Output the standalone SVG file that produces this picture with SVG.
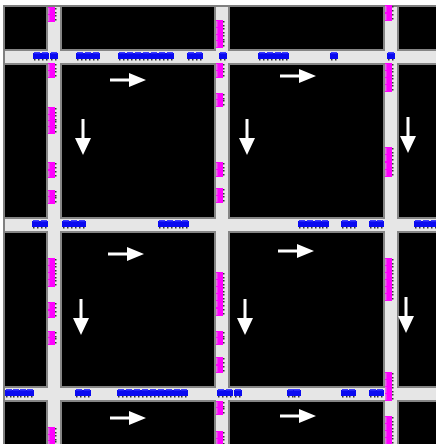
<svg xmlns="http://www.w3.org/2000/svg" xmlns:xlink="http://www.w3.org/1999/xlink" width="436" height="444" viewBox="0 0 436 444">
<style>
.edge{fill:#858585}
.lane{fill:#e6e6e6}
.arr{fill:#ffffff}
</style>
<defs>
<g id="bc">
<rect x="0" y="1" width="8" height="6" fill="#0a0af0"/>
<rect x="1" y="0" width="6" height="1.5" fill="#3c3cff"/>
<rect x="1" y="7" width="1.5" height="1.5" fill="#333"/>
<rect x="5" y="7" width="1.5" height="1.5" fill="#333"/>
</g>
<g id="mc">
<rect x="0" y="0" width="7" height="8" fill="#ff00ff"/>
<rect x="0" y="1" width="1.5" height="6" fill="#e070e0"/>
<rect x="7" y="1" width="1.5" height="1.5" fill="#333"/>
<rect x="7" y="5" width="1.5" height="1.5" fill="#333"/>
</g>
<path id="ra" d="M0,-1.5 H19 V-7 L36,0 L19,7 V1.5 H0 Z"/>
<path id="da" d="M-1.5,0 V19 H-8 L0,36 L8,19 H1.5 V0 Z"/>
</defs>
<rect width="436" height="444" fill="#ffffff"/>
<rect x="3" y="5" width="433" height="439" fill="#808080"/>
<rect x="5" y="7" width="431" height="437" fill="#000000"/>
<g id="roads">
<rect class="edge" x="46" y="7" width="16" height="437"/>
<rect class="edge" x="214" y="7" width="16" height="437"/>
<rect class="edge" x="383" y="7" width="16" height="437"/>
<rect class="edge" x="5" y="49" width="431" height="16"/>
<rect class="edge" x="5" y="217" width="431" height="16"/>
<rect class="edge" x="5" y="386" width="431" height="16"/>
<rect class="lane" x="48" y="7" width="12" height="437"/>
<rect class="lane" x="216" y="7" width="12" height="437"/>
<rect class="lane" x="385" y="7" width="12" height="437"/>
<rect class="lane" x="5" y="51" width="431" height="12"/>
<rect class="lane" x="5" y="219" width="431" height="12"/>
<rect class="lane" x="5" y="388" width="431" height="12"/>
</g>
<g id="blue-cars">
<use href="#bc" x="33" y="52"/><use href="#bc" x="41" y="52"/><use href="#bc" x="50" y="52"/>
<use href="#bc" x="76" y="52"/><use href="#bc" x="84" y="52"/><use href="#bc" x="92" y="52"/>
<use href="#bc" x="118" y="52"/><use href="#bc" x="126" y="52"/><use href="#bc" x="134" y="52"/><use href="#bc" x="142" y="52"/><use href="#bc" x="150" y="52"/><use href="#bc" x="158" y="52"/><use href="#bc" x="166" y="52"/>
<use href="#bc" x="187" y="52"/><use href="#bc" x="195" y="52"/>
<use href="#bc" x="219" y="52"/>
<use href="#bc" x="258" y="52"/><use href="#bc" x="266" y="52"/><use href="#bc" x="274" y="52"/><use href="#bc" x="281" y="52"/>
<use href="#bc" x="330" y="52"/>
<use href="#bc" x="387" y="52"/>
<use href="#bc" x="32" y="220"/><use href="#bc" x="40" y="220"/>
<use href="#bc" x="62" y="220"/><use href="#bc" x="70" y="220"/><use href="#bc" x="78" y="220"/>
<use href="#bc" x="158" y="220"/><use href="#bc" x="166" y="220"/><use href="#bc" x="174" y="220"/><use href="#bc" x="181" y="220"/>
<use href="#bc" x="298" y="220"/><use href="#bc" x="306" y="220"/><use href="#bc" x="314" y="220"/><use href="#bc" x="321" y="220"/>
<use href="#bc" x="341" y="220"/><use href="#bc" x="349" y="220"/>
<use href="#bc" x="369" y="220"/><use href="#bc" x="376" y="220"/>
<use href="#bc" x="414" y="220"/><use href="#bc" x="422" y="220"/><use href="#bc" x="430" y="220"/>
<use href="#bc" x="5" y="389"/><use href="#bc" x="12" y="389"/><use href="#bc" x="19" y="389"/><use href="#bc" x="26" y="389"/>
<use href="#bc" x="75" y="389"/><use href="#bc" x="83" y="389"/>
<use href="#bc" x="117" y="389"/><use href="#bc" x="125" y="389"/><use href="#bc" x="133" y="389"/><use href="#bc" x="141" y="389"/><use href="#bc" x="149" y="389"/><use href="#bc" x="157" y="389"/><use href="#bc" x="165" y="389"/><use href="#bc" x="173" y="389"/><use href="#bc" x="180" y="389"/>
<use href="#bc" x="217" y="389"/><use href="#bc" x="225" y="389"/><use href="#bc" x="234" y="389"/>
<use href="#bc" x="287" y="389"/><use href="#bc" x="293" y="389"/>
<use href="#bc" x="341" y="389"/><use href="#bc" x="348" y="389"/>
<use href="#bc" x="369" y="389"/><use href="#bc" x="376" y="389"/>
</g>
<g id="magenta-cars">
<use href="#mc" x="48" y="7"/><use href="#mc" x="48" y="14"/>
<use href="#mc" x="48" y="63"/><use href="#mc" x="48" y="70"/>
<use href="#mc" x="48" y="107"/><use href="#mc" x="48" y="114"/><use href="#mc" x="48" y="120"/><use href="#mc" x="48" y="126"/>
<use href="#mc" x="48" y="162"/><use href="#mc" x="48" y="170"/>
<use href="#mc" x="48" y="190"/><use href="#mc" x="48" y="196"/>
<use href="#mc" x="48" y="258"/><use href="#mc" x="48" y="265"/><use href="#mc" x="48" y="272"/><use href="#mc" x="48" y="279"/>
<use href="#mc" x="48" y="302"/><use href="#mc" x="48" y="310"/>
<use href="#mc" x="48" y="331"/><use href="#mc" x="48" y="337"/>
<use href="#mc" x="48" y="427"/><use href="#mc" x="48" y="434"/><use href="#mc" x="48" y="440"/>
<use href="#mc" x="216" y="20"/><use href="#mc" x="216" y="27"/><use href="#mc" x="216" y="34"/><use href="#mc" x="216" y="40"/>
<use href="#mc" x="216" y="63"/><use href="#mc" x="216" y="70"/>
<use href="#mc" x="216" y="93"/><use href="#mc" x="216" y="99"/>
<use href="#mc" x="216" y="162"/><use href="#mc" x="216" y="169"/>
<use href="#mc" x="216" y="188"/><use href="#mc" x="216" y="195"/>
<use href="#mc" x="216" y="272"/><use href="#mc" x="216" y="279"/><use href="#mc" x="216" y="286"/><use href="#mc" x="216" y="293"/><use href="#mc" x="216" y="300"/><use href="#mc" x="216" y="308"/>
<use href="#mc" x="216" y="331"/><use href="#mc" x="216" y="337"/>
<use href="#mc" x="216" y="357"/><use href="#mc" x="216" y="365"/>
<use href="#mc" x="216" y="401"/><use href="#mc" x="216" y="407"/>
<use href="#mc" x="216" y="431"/><use href="#mc" x="216" y="438"/>
<use href="#mc" x="385" y="5"/><use href="#mc" x="385" y="13"/>
<use href="#mc" x="385" y="63"/><use href="#mc" x="385" y="70"/><use href="#mc" x="385" y="77"/><use href="#mc" x="385" y="84"/>
<use href="#mc" x="385" y="147"/><use href="#mc" x="385" y="154"/><use href="#mc" x="385" y="162"/><use href="#mc" x="385" y="169"/>
<use href="#mc" x="385" y="258"/><use href="#mc" x="385" y="265"/><use href="#mc" x="385" y="272"/><use href="#mc" x="385" y="279"/><use href="#mc" x="385" y="286"/><use href="#mc" x="385" y="293"/>
<use href="#mc" x="385" y="372"/><use href="#mc" x="385" y="379"/><use href="#mc" x="385" y="386"/><use href="#mc" x="385" y="393"/>
<use href="#mc" x="385" y="416"/><use href="#mc" x="385" y="423"/><use href="#mc" x="385" y="430"/><use href="#mc" x="385" y="437"/>
</g>
<g id="arrows" class="arr">
<use href="#ra" x="110" y="80"/><use href="#ra" x="280" y="76"/>
<use href="#ra" x="108" y="254"/><use href="#ra" x="278" y="251"/>
<use href="#ra" x="110" y="418"/><use href="#ra" x="280" y="416"/>
<use href="#da" x="83" y="119"/><use href="#da" x="247" y="119"/><use href="#da" x="408" y="117"/>
<use href="#da" x="81" y="299"/><use href="#da" x="245" y="299"/><use href="#da" x="406" y="297"/>
</g>
</svg>
